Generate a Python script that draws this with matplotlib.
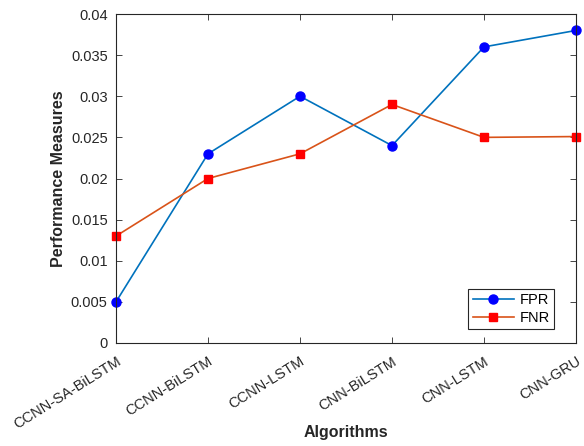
import matplotlib
matplotlib.use('Agg')
import matplotlib.pyplot as plt

# algorithms compared
algorithms = ['CCNN-SA-BiLSTM', 'CCNN-BiLSTM', 'CCNN-LSTM', 'CNN-BiLSTM', 'CNN-LSTM', 'CNN-GRU']
fpr = [0.005, 0.023, 0.030, 0.024, 0.036, 0.038]
fnr = [0.013, 0.020, 0.023, 0.029, 0.025, 0.0251]
y_ticks = [0, 0.005, 0.01, 0.015, 0.02, 0.025, 0.03, 0.035, 0.04]
y_tick_labels = ['0', '0.005', '0.01', '0.015', '0.02', '0.025', '0.03', '0.035', '0.04']

plt.rcParams['font.family'] = ['Liberation Sans', 'DejaVu Sans']

fig = plt.figure(figsize=(5.84, 4.46), dpi=100)
# axes box in pixels: left 116, right 576, top 14, bottom 343
ax = fig.add_axes([116 / 584, 103 / 446, 460 / 584, 329 / 446])

x = list(range(len(algorithms)))
ax.plot(x, fpr, color='#0072BD', lw=1.2, marker='o', ms=6.5,
        mfc='#0000FF', mec='#0000FF', label='FPR', clip_on=False)
ax.plot(x, fnr, color='#D95319', lw=1.2, marker='s', ms=5.5,
        mfc='#FF0000', mec='#FF0000', label='FNR', clip_on=False)

ax.set_xlim(0, len(algorithms) - 1)
ax.set_ylim(0, 0.04)
ax.set_xticks(x)
ax.set_xticklabels(algorithms, rotation=32, ha='right', rotation_mode='anchor')
ax.set_yticks(y_ticks)
ax.set_yticklabels(y_tick_labels)

ax.tick_params(direction='in', length=4, width=0.6, top=True, right=True,
               labelsize=10.5, colors='#262626')
ax.tick_params(axis='x', pad=8)
ax.tick_params(axis='y', pad=6)
for s in ax.spines.values():
    s.set_color('#262626')
    s.set_linewidth(0.8)

ax.set_xlabel('Algorithms', fontsize=11.5, fontweight='bold', color='#262626', va='center')
ax.xaxis.set_label_coords(0.5, -(432 - 343) / 329)
ax.set_ylabel('Performance Measures', fontsize=11.5, fontweight='bold', color='#262626', va='center')
ax.yaxis.set_label_coords((59 - 116) / 460, 0.5)

leg = ax.legend(loc='lower right', bbox_to_anchor=((554 - 116) / 460, (343 - 329) / 329),
                borderaxespad=0, fontsize=10.5, fancybox=False, framealpha=1,
                edgecolor='#262626', borderpad=0.3, handlelength=2.8,
                handletextpad=0.4, labelspacing=0.25)
leg.get_frame().set_linewidth(0.8)

fig.savefig('out.png', dpi=100)
